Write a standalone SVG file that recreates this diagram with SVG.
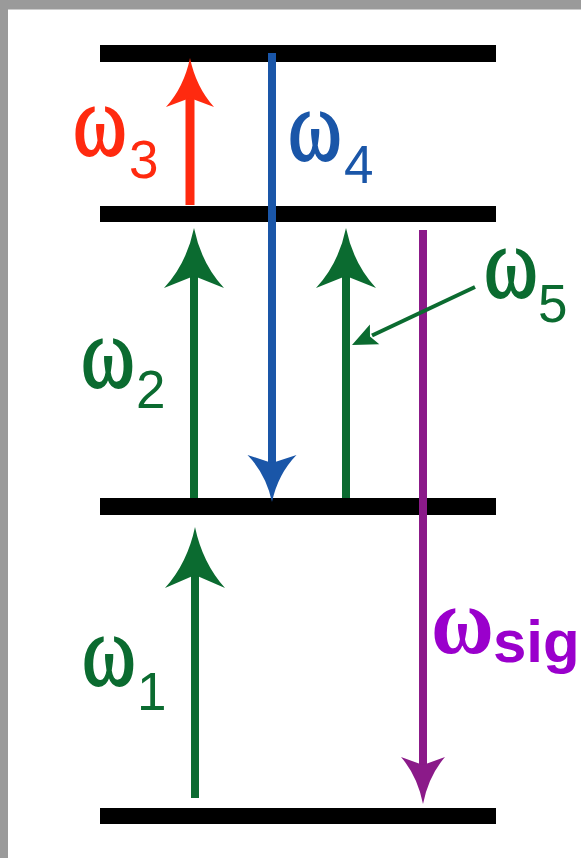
<svg xmlns="http://www.w3.org/2000/svg" width="581" height="858" viewBox="0 0 581 858">
<style>
.bar{fill:#000}
.red{fill:#ff2a0f}
.blue{fill:#1a56a8}
.green{fill:#0b6b30}
.purple{fill:#8b1a89}
.om{font-family:"Liberation Serif","DejaVu Serif",serif;font-size:86px;stroke-width:1.6}
.sub{font-family:"Liberation Sans",Arial,sans-serif;font-size:53px}
.sig{fill:#9a00cc}
.red .om{stroke:#ff2a0f}
.blue .om{stroke:#1a56a8}
.green .om{stroke:#0b6b30}
</style>
<rect width="581" height="858" fill="#fff"/>
<rect x="0" y="0" width="581" height="9.5" fill="#9a9a9a"/>
<rect x="0" y="0" width="8" height="858" fill="#9a9a9a"/>
<g id="levels">
<rect id="level3" class="bar" x="100" y="45" width="396" height="17"/>
<rect id="level2" class="bar" x="100" y="206" width="396" height="16"/>
<rect id="level1" class="bar" x="100" y="498" width="396" height="17"/>
<rect id="level0" class="bar" x="100" y="808" width="396" height="16"/>
</g>
<g id="connectors">
<g id="arrow-w3" class="red">
<rect x="185.5" y="97" width="9" height="108"/>
<path d="M190,58 Q184,87 166,107 L190,98 L214,107 Q196,87 190,58Z"/>
</g>
<g id="arrow-w4" class="blue">
<rect x="268" y="53" width="8" height="411"/>
<path d="M272,502 Q266,474 247.5,455 L272,463 L296.5,455 Q278,474 272,502Z"/>
</g>
<g id="arrow-w2" class="green">
<rect x="190" y="275" width="8" height="223"/>
<path d="M194,228 Q186.5,264 164,288 L194,276 L224,288 Q201.5,264 194,228Z"/>
</g>
<g id="arrow-w5" class="green">
<rect x="342" y="275" width="8" height="223"/>
<path d="M346,228 Q338.5,264 316,288 L346,276 L376,288 Q353.5,264 346,228Z"/>
</g>
<g id="arrow-w1" class="green">
<rect x="191" y="574" width="8" height="224"/>
<path d="M195,527 Q187.5,563 165,588 L195,575 L225,588 Q202.5,563 195,527Z"/>
</g>
<g id="arrow-wsig" class="purple">
<rect x="419" y="230" width="8" height="536"/>
<path d="M423,804 Q417.5,776 401,757 L423,765 L445,757 Q428.5,776 423,804Z"/>
</g>
<g id="pointer-w5">
<line x1="475" y1="287" x2="372" y2="335.5" stroke="#0b6b30" stroke-width="4"/>
<path class="green" d="M352,345 L369.9,324.4 L370,336.5 L379.3,344.2Z"/>
</g>
</g>
<g id="label-w3" class="red"><text class="om" transform="translate(73,155) scale(0.95,1.18)">ω</text><text class="sub" x="129" y="178">3</text></g>
<g id="label-w4" class="blue"><text class="om" transform="translate(288,160) scale(0.95,1.18)">ω</text><text class="sub" x="344" y="183">4</text></g>
<g id="label-w2" class="green"><text class="om" transform="translate(81,387) scale(0.95,1.18)">ω</text><text class="sub" x="136" y="408">2</text></g>
<g id="label-w5" class="green"><text class="om" transform="translate(484,297) scale(0.95,1.18)">ω</text><text class="sub" x="538" y="322">5</text></g>
<g id="label-w1" class="green"><text class="om" transform="translate(82,685) scale(0.95,1.18)">ω</text><text class="sub" x="137" y="710">1</text></g>
<g id="label-wsig" class="sig"><text class="om" transform="translate(431,653) scale(1,1.1)" font-weight="bold" font-size="92" stroke="none">ω</text><text x="493" y="662" font-family="'Liberation Sans',Arial,sans-serif" font-weight="bold" font-size="60">sig</text></g>
</svg>
